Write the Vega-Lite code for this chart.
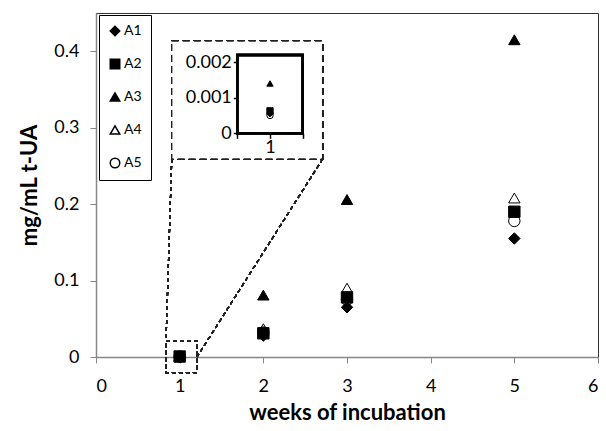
{
  "$schema": "https://vega.github.io/schema/vega-lite/v6.json",
  "width": 502,
  "height": 344,
  "autosize": "none",
  "padding": {"left": 96, "top": 13, "right": 8, "bottom": 74},
  "background": "white",
  "config": {
    "font": "Lato",
    "view": {"stroke": "#333333", "strokeWidth": 1},
    "axis": {"grid": false, "labelColor": "black", "titleColor": "black", "labelFontSize": 18, "labelFont": "Lato", "titleFont": "Lato"}
  },
  "data": {
    "values": [
      {"week": 1, "series": "A1", "value": 0.00055},
      {"week": 1, "series": "A2", "value": 0.00063},
      {"week": 1, "series": "A3", "value": 0.0014},
      {"week": 1, "series": "A4", "value": 0.0006},
      {"week": 1, "series": "A5", "value": 0.0005},
      {"week": 2, "series": "A1", "value": 0.028},
      {"week": 2, "series": "A2", "value": 0.031},
      {"week": 2, "series": "A3", "value": 0.081},
      {"week": 2, "series": "A4", "value": 0.037},
      {"week": 2, "series": "A5", "value": 0.032},
      {"week": 3, "series": "A1", "value": 0.065},
      {"week": 3, "series": "A2", "value": 0.078},
      {"week": 3, "series": "A3", "value": 0.206},
      {"week": 3, "series": "A4", "value": 0.09},
      {"week": 3, "series": "A5", "value": 0.075},
      {"week": 5, "series": "A1", "value": 0.155},
      {"week": 5, "series": "A2", "value": 0.19},
      {"week": 5, "series": "A3", "value": 0.415},
      {"week": 5, "series": "A4", "value": 0.208},
      {"week": 5, "series": "A5", "value": 0.178}
    ]
  },
  "layer": [
    {
      "layer": [
        {
          "mark": {"type": "rect", "fill": null, "filled": false, "stroke": "#222222", "strokeWidth": 1.2, "strokeDash": [4, 3], "clip": false},
          "encoding": {
            "x": {"datum": 0.837, "type": "quantitative"},
            "x2": {"datum": 1.207},
            "y": {"datum": -0.0205, "type": "quantitative"},
            "y2": {"datum": 0.0213}
          }
        },
        {
          "mark": {"type": "rect", "fill": "white", "stroke": "#222222", "strokeWidth": 1.4, "strokeDash": [7, 4], "clip": false},
          "encoding": {
            "x": {"datum": 0.905, "type": "quantitative"},
            "x2": {"datum": 2.709},
            "y": {"datum": 0.259, "type": "quantitative"},
            "y2": {"datum": 0.4134}
          }
        },
        {
          "mark": {"type": "rule", "stroke": "#222222", "strokeWidth": 1.2, "strokeDash": [4, 3], "clip": false},
          "encoding": {
            "x": {"datum": 0.905, "type": "quantitative"},
            "x2": {"datum": 0.837},
            "y": {"datum": 0.259, "type": "quantitative"},
            "y2": {"datum": 0.0213}
          }
        },
        {
          "mark": {"type": "rule", "stroke": "#222222", "strokeWidth": 1.2, "strokeDash": [4, 3], "clip": false},
          "encoding": {
            "x": {"datum": 2.709, "type": "quantitative"},
            "x2": {"datum": 1.207},
            "y": {"datum": 0.259, "type": "quantitative"},
            "y2": {"datum": 0.0}
          }
        },
        {
          "mark": {"type": "point", "filled": true, "stroke": "black", "strokeWidth": 1, "opacity": 1, "size": 130},
          "encoding": {
            "x": {
              "field": "week", "type": "quantitative",
              "scale": {"domain": [0, 6], "nice": false, "zero": false},
              "axis": {"title": "weeks of incubation", "titleFontSize": 22, "titleFontWeight": "bold", "titlePadding": 7, "values": [0, 1, 2, 3, 4, 5, 6], "format": "d", "domainColor": "#868686", "domainWidth": 1.5, "tickColor": "#868686", "tickSize": 6, "labelPadding": 14}
            },
            "y": {
              "field": "value", "type": "quantitative",
              "scale": {"domain": [0, 0.45], "nice": false, "zero": false},
              "axis": {"title": "mg/mL t-UA", "titleFontSize": 22, "titleFontWeight": "bold", "titlePadding": 12, "values": [0, 0.1, 0.2, 0.3, 0.4], "format": "~f", "domainColor": "#868686", "domainWidth": 1.5, "tickColor": "#868686", "tickSize": 6, "labelPadding": 11}
            },
            "shape": {
              "field": "series", "type": "nominal",
              "scale": {"domain": ["A1", "A2", "A3", "A4", "A5"], "range": ["diamond", "square", "triangle-up", "triangle-up", "circle"]},
              "legend": {"orient": "none", "legendX": 3, "legendY": 2, "title": null, "strokeColor": "black", "fillColor": "white", "padding": 9, "symbolSize": 90, "labelFontSize": 14, "labelFont": "Lato", "rowPadding": 17, "labelOffset": 2,
                "encode": {"symbols": {"update": {"stroke": {"value": "black"}, "strokeWidth": {"value": 1}}}}}
            },
            "fill": {
              "field": "series", "type": "nominal",
              "scale": {"domain": ["A1", "A2", "A3", "A4", "A5"], "range": ["black", "black", "black", "transparent", "transparent"]},
              "legend": {"orient": "none", "legendX": 3, "legendY": 2, "title": null, "strokeColor": "black", "fillColor": "white", "padding": 9, "symbolSize": 90, "labelFontSize": 14, "labelFont": "Lato", "rowPadding": 17, "labelOffset": 2,
                "encode": {"symbols": {"update": {"stroke": {"value": "black"}, "strokeWidth": {"value": 1}}}}}
            }
          }
        }
      ]
    },
    {
      "transform": [{"filter": {"field": "week", "equal": 1}}],
      "layer": [
        {
          "mark": {"type": "rect", "fill": null, "filled": false, "stroke": "black", "strokeWidth": 2.3, "clip": false},
          "encoding": {
            "x": {"datum": 0.5, "type": "quantitative"},
            "x2": {"datum": 1.5},
            "y": {"datum": 0, "type": "quantitative"},
            "y2": {"datum": 0.0022}
          }
        },
        {
          "mark": {"type": "point", "filled": true, "stroke": "black", "strokeWidth": 1, "opacity": 1, "size": 40},
          "encoding": {
            "x": {
              "field": "week", "type": "quantitative",
              "scale": {"domain": [0.5, 1.5], "range": [141.3, 206.7], "nice": false, "zero": false},
              "axis": {"orient": "bottom", "offset": -223.7, "zindex": 2, "title": null, "values": [0.5, 1, 1.5], "labelExpr": "datum.value == 1 ? '1' : ''", "domain": false, "tickColor": "black", "tickSize": 5, "tickWidth": 1.5, "labelPadding": 0, "labelFontSize": 18}
            },
            "y": {
              "field": "value", "type": "quantitative",
              "scale": {"domain": [0, 0.0022], "range": [120.3, 42], "nice": false, "zero": false},
              "axis": {"orient": "left", "offset": -141.3, "zindex": 2, "title": null, "values": [0, 0.001, 0.002], "format": "~f", "domain": false, "tickColor": "black", "tickSize": 4, "tickWidth": 1.5, "labelPadding": 2, "labelFontSize": 18}
            },
            "shape": {"field": "series", "type": "nominal"},
            "fill": {"field": "series", "type": "nominal"}
          }
        }
      ]
    }
  ],
  "resolve": {"scale": {"x": "independent", "y": "independent"}, "axis": {"x": "independent", "y": "independent"}}
}
